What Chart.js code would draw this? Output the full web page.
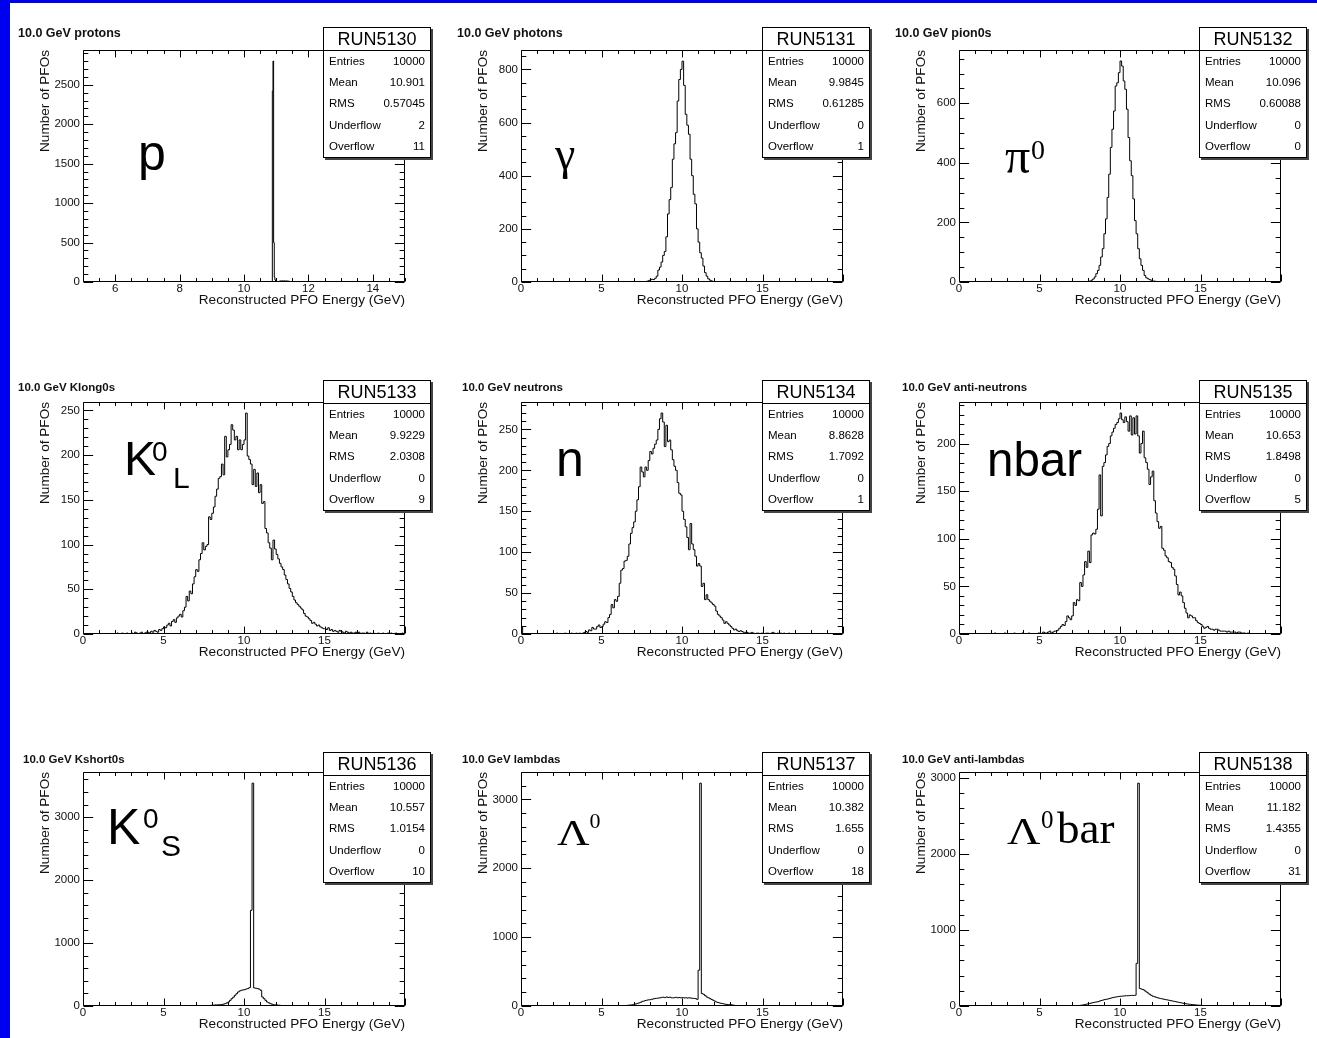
<!DOCTYPE html>
<html>
<head>
<meta charset="utf-8">
<title>10 GeV single particle PFO energies</title>
<script src="https://cdn.jsdelivr.net/npm/chart.js@4.4.1/dist/chart.umd.min.js"></script>
<style>
  html, body { margin: 0; padding: 0; background: #fff; }
  body { width: 1317px; height: 1038px; position: relative; overflow: hidden;
         font-family: 'Liberation Sans', Arial, sans-serif; color: #000; }
  .edge  { position: absolute; background: #0000f0; }
  .panel { position: absolute; }
  .title { position: absolute; font-weight: bold; color: #111; white-space: nowrap; line-height: 14px; }
  .stats { position: absolute; width: 106px; height: 129px; border: 1px solid #000; background: #fff;
           box-shadow: 2px 2px 0 #444; }
  .stats .run { height: 22px; line-height: 22px; font-size: 18px; text-align: center; border-bottom: 1px solid #000; }
  .stats .row { display: flex; justify-content: space-between; padding: 0 5px 0 5px;
                height: 21.2px; line-height: 21.2px; font-size: 11.5px; }
  .big   { position: absolute; line-height: 1; white-space: nowrap; color: #000; transform-origin: 0 0; }
</style>
</head>
<body>
<div class="edge" style="left:0;top:0;width:10px;height:1038px"></div>
<div class="edge" style="left:0;top:0;width:1317px;height:3px"></div>

<script>
/* ─────────────────────────────────────────────────────────────
   3x3 grid of ROOT-style PFO energy histograms (10 GeV beams)
   ───────────────────────────────────────────────────────────── */

/* ── Panel text ── */
const TITLES = ['10.0 GeV protons', '10.0 GeV photons', '10.0 GeV pion0s',
                '10.0 GeV Klong0s', '10.0 GeV neutrons', '10.0 GeV anti-neutrons',
                '10.0 GeV Kshort0s', '10.0 GeV lambdas', '10.0 GeV anti-lambdas'];
const RUNS   = ['RUN5130', 'RUN5131', 'RUN5132', 'RUN5133', 'RUN5134',
                'RUN5135', 'RUN5136', 'RUN5137', 'RUN5138'];

/* ── Stat boxes ── */
const STAT_NAMES = ['Entries', 'Mean', 'RMS', 'Underflow', 'Overflow'];
const ENTRIES    = ['10000', '10000', '10000', '10000', '10000', '10000', '10000', '10000', '10000'];
const MEANS      = ['10.901', '9.9845', '10.096', '9.9229', '8.8628', '10.653', '10.557', '10.382', '11.182'];
const RMSS       = ['0.57045', '0.61285', '0.60088', '2.0308', '1.7092', '1.8498', '1.0154', '1.655', '1.4355'];
const UNDERFLOWS = ['2', '0', '0', '0', '0', '0', '0', '0', '0'];
const OVERFLOWS  = ['11', '1', '0', '9', '1', '5', '10', '18', '31'];

/* ── Histogram contents (bin width, first bin low edge, counts) ── */
const BIN_WIDTH = [0.02, 0.1, 0.1, 0.1, 0.1, 0.1, 0.1, 0.1, 0.1];
const BIN_START = [10.80, 7.8, 8.0, 2.0, 0.0, 2.0, 7.5, 6.0, 7.0];

const PROTON_BINS = [
  0, 1, 2, 6, 2420, 2800, 500, 60, 25, 10,
  8, 6, 5, 4, 3, 12, 14, 12, 13, 15,
  14, 12, 15, 13, 12, 14, 11, 13, 12, 10,
  8, 4, 2, 1];
const PHOTON_BINS = [
  3, 5,
  8, 10, 9, 14, 22, 45, 56, 75, 100, 115,
  170, 256, 310, 356, 462, 520, 562, 681, 762, 800,
  831, 740, 631, 590, 556, 462, 400, 330, 294, 200,
  150, 110, 90, 60, 35, 22, 12, 7, 4, 2,
  1, 1, 0, 1];
const PION_BINS = [
  2, 3, 6, 10, 17, 28, 39, 56, 84, 112,
  162, 212, 284, 362, 452, 513, 574, 658, 669, 703,
  742, 725, 675, 647, 580, 485, 407, 357, 279, 206,
  162, 112, 78, 56, 39, 22, 14, 11, 8, 6,
  3, 3, 2, 1, 1, 1, 0, 1];
const KLONG_BINS = [
  0, 1, 0, 0, 1, 0, 0, 1, 0, 0,
  1, 0, 2, 1, 0, 1, 2, 0, 1, 2,
  2, 1, 3, 2, 4, 3, 2, 5, 4, 6,
  8, 7, 10, 12, 9, 14, 16, 13, 18, 20,
  22, 19, 26, 30, 42, 37, 48, 45, 56, 64,
  72, 70, 83, 90, 102, 94, 98, 100, 131, 128,
  135, 142, 154, 162, 174, 176, 190, 178, 221, 198,
  206, 212, 234, 228, 217, 221, 206, 217, 206, 212,
  217, 247, 199, 195, 190, 167, 184, 165, 180, 158,
  167, 146, 148, 118, 113, 102, 96, 83, 105, 95,
  89, 84, 79, 75, 72, 66, 61, 56, 51, 47,
  42, 38, 35, 33, 31, 29, 27, 23, 20, 19,
  17, 15, 12, 13, 11, 9, 10, 8, 7, 6,
  6, 5, 7, 4, 5, 3, 4, 3, 2, 4,
  3, 2, 1, 3, 2, 1, 2, 1, 1, 2,
  1, 2, 0, 1, 1, 0, 2, 0, 1, 0,
  1, 0, 0, 1, 0, 0, 1, 0, 0, 1,
  0, 1, 0, 0, 1, 0, 0, 0, 1, 0];
const NEUTRON_BINS = [
  9, 0, 0, 0, 0, 0, 0, 0, 0, 0,
  0, 0, 0, 0, 0, 0, 0, 0, 0, 0,
  0, 0, 1, 0, 0, 0, 0, 1, 0, 0,
  0, 1, 0, 0, 1, 0, 1, 0, 1, 2,
  3, 2, 5, 4, 8, 6, 6, 9, 11, 8,
  9, 12, 15, 14, 20, 24, 36, 32, 42, 40,
  46, 62, 78, 80, 89, 90, 95, 110, 123, 130,
  137, 150, 164, 180, 204, 198, 192, 204, 200, 212,
  223, 220, 227, 232, 237, 250, 263, 270, 259, 229,
  255, 235, 237, 225, 213, 205, 200, 185, 172, 170,
  150, 140, 131, 118, 103, 135, 110, 103, 95, 83,
  86, 83, 58, 62, 42, 48, 42, 40, 38, 36,
  34, 28, 24, 22, 20, 17, 13, 15, 13, 11,
  9, 7, 5, 6, 4, 3, 4, 3, 2, 2,
  2, 1, 1, 2, 1, 0, 1, 1, 0, 1,
  1, 0, 1, 1, 0, 1, 2, 1, 0, 1,
  0, 1, 0, 1, 0, 0, 1, 0, 0, 0];
const NBAR_BINS = [
  0, 0, 1, 0, 0, 0, 0, 0, 1, 0,
  0, 0, 0, 0, 1, 0, 0, 0, 0, 1,
  0, 0, 0, 1, 0, 0, 0, 0, 0, 1,
  1, 0, 2, 1, 1, 2, 3, 1, 2, 3,
  3, 4, 6, 8, 10, 9, 13, 19, 17, 15,
  19, 33, 30, 36, 35, 54, 50, 62, 76, 70,
  87, 75, 104, 106, 105, 110, 131, 167, 124, 176,
  180, 188, 197, 200, 208, 212, 216, 220, 222, 226,
  232, 225, 222, 228, 223, 213, 229, 209, 227, 210,
  229, 208, 190, 200, 213, 185, 180, 173, 157, 165,
  171, 140, 127, 118, 111, 113, 90, 88, 82, 80,
  76, 75, 70, 68, 61, 52, 41, 44, 40, 33,
  27, 22, 17, 20, 19, 17, 17, 14, 12, 11,
  10, 8, 6, 7, 8, 6, 5, 5, 4, 5,
  5, 4, 3, 3, 3, 3, 2, 3, 2, 2,
  2, 2, 1, 2, 2, 1, 1, 1, 0, 1];
const KSHORT_BINS = [
  3, 5, 5, 8, 10,
  14, 15, 17, 18, 20, 21, 25, 30, 38, 50,
  64, 90, 117, 140, 170, 195, 223, 240, 250, 255,
  260, 270, 276, 292, 1520, 3540, 287, 282, 276, 268,
  250, 143, 117, 90, 64, 50, 37, 28, 21, 18,
  16, 13, 10, 8, 6, 5, 4, 4, 3, 2,
  3, 1, 2, 1];
const LAMBDA_BINS = [
  1, 2, 3, 4, 6, 8, 10, 13, 15, 18,
  25, 30, 38, 45, 55, 68, 72, 80, 86, 90,
  92, 98, 105, 110, 112, 116, 118, 125, 128, 122,
  131, 124, 128, 120, 118, 121, 126, 119, 124, 118,
  121, 117, 120, 115, 119, 116, 112, 110, 107, 97,
  520, 3236, 180, 170, 150, 131, 120, 107, 95, 83,
  70, 58, 50, 44, 38, 34, 28, 24, 21, 19,
  19, 14, 10];
const ALAMBDA_BINS = [
  1, 2, 2, 3, 5, 9, 12, 15, 20, 25,
  31, 35, 40, 45, 50, 53, 58, 65, 72, 78,
  84, 88, 92, 98, 104, 110, 115, 118, 122, 126,
  128, 130, 132, 134, 135, 136, 138, 140, 139, 141,
  560, 2930, 229, 222, 216, 200, 185, 170, 154, 140,
  128, 122, 115, 108, 102, 97, 93, 88, 84, 80,
  75, 71, 66, 62, 58, 53, 49, 44, 40, 35,
  31, 28, 25, 22, 20, 18, 15, 13, 11, 10,
  9, 6, 4, 2, 1];
const BINS = [PROTON_BINS, PHOTON_BINS, PION_BINS, KLONG_BINS, NEUTRON_BINS,
              NBAR_BINS, KSHORT_BINS, LAMBDA_BINS, ALAMBDA_BINS];

/* ── Axes ── */
const X_RANGE        = [[5, 15], [0, 20], [0, 20], [0, 20], [0, 20], [0, 20], [0, 20], [0, 20], [0, 20]];
const X_TICKS_PROTON = [6, 8, 10, 12, 14];
const X_TICKS        = [0, 5, 10, 15];
const Y_MAX          = [2940, 873, 779, 259.4, 283.5, 243.6, 3717, 3398, 3077];
const Y_TICKS = [
  [0, 500, 1000, 1500, 2000, 2500],
  [0, 200, 400, 600, 800],
  [0, 200, 400, 600],
  [0, 50, 100, 150, 200, 250],
  [0, 50, 100, 150, 200, 250],
  [0, 50, 100, 150, 200],
  [0, 1000, 2000, 3000],
  [0, 1000, 2000, 3000],
  [0, 1000, 2000, 3000]];
// [major step, minor step] for the ROOT tick marks
const X_DIV = [[2, 0.5], [5, 1], [5, 1], [5, 1], [5, 1], [5, 1], [5, 1], [5, 1], [5, 1]];
const Y_DIV = [[500, 100], [200, 50], [200, 50], [50, 10], [50, 10], [50, 10],
               [1000, 200], [1000, 200], [1000, 200]];

/* ── Layout (px) ── */
const COL_LEFT = [83, 521, 959];
const ROW_TOP  = [50, 402, 772];
const ROW_H    = [232, 232, 234];
const PLOT_W   = 322;
const Y_AXIS_W = 46, PAD_TOP = 12, PAD_RIGHT = 12, X_AXIS_H = 26;
const STAT_LEFT = [323, 762, 1199];
const STAT_TOP  = [27, 380, 752];
const TITLE_POS = [[18, 33], [457, 33], [895, 33], [18, 387], [462, 387], [902, 387],
                   [23, 759], [462, 759], [902, 759]];
const TITLE_SIZE = [12.5, 11.5, 11.5];

/* big particle labels: [text, left, baseline, size, serif, scaleX] */
const LABELS = [
  [['p', 138, 170, 50, false]],
  [['γ', 555, 170, 46, true]],
  [['π', 1005, 173, 50, true], ['0', 1031, 159, 28, true]],
  [['K', 124, 476, 48, false], ['0', 152, 461.7, 28, false], ['L', 173, 488.3, 30, false]],
  [['n', 556, 476, 50, false]],
  [['nbar', 987, 476.7, 47.5, false]],
  [['K', 107, 844, 50, false], ['0', 143, 828.3, 28, false], ['S', 161, 856.7, 30, false]],
  [['Λ', 557, 845, 36, true, 1.25], ['0', 589.5, 828, 22, true]],
  [['Λ', 1007, 843.5, 37, true, 1.25], ['0', 1041, 828.3, 25, true], ['bar', 1057, 843.5, 45, true]]];

const SANS  = "'Liberation Sans', Arial, sans-serif";
const SERIF = "'Liberation Serif', 'Times New Roman', serif";
const INK   = '#111';

/* ── Helpers ── */
function histPoints(start, width, values, xmin, xmax) {
  const pts = [{ x: xmin, y: 0 }, { x: start, y: 0 }];
  values.forEach((v, i) => pts.push({ x: start + i * width, y: v }));
  pts.push({ x: start + values.length * width, y: 0 }, { x: xmax, y: 0 });
  return pts;
}

function tickMarks(min, max, major, minor) {
  const out = [];
  for (let i = Math.ceil(min / minor - 1e-6); i * minor <= max + 1e-9; i++) {
    const v = i * minor;
    const r = v / major;
    out.push([v, Math.abs(r - Math.round(r)) < 1e-6]);
  }
  return out;
}

/* ROOT frame: box + inward ticks on all four sides */
const rootFrame = {
  id: 'rootFrame',
  afterDatasetsDraw(chart, args, o) {
    const { ctx, chartArea: a, scales: { x, y } } = chart;
    const L = Math.round(a.left) + 0.5, R = Math.round(a.right) - 0.5;
    const T = Math.round(a.top) + 0.5,  B = Math.round(a.bottom) - 0.5;
    const xLen = (B - T) * 0.03, yLen = (R - L) * 0.03;
    ctx.save();
    ctx.strokeStyle = '#000';
    ctx.lineWidth = 1;
    ctx.beginPath();
    ctx.rect(L, T, R - L, B - T);
    tickMarks(x.min, x.max, o.xDiv[0], o.xDiv[1]).forEach(([v, major]) => {
      const px = Math.round(x.getPixelForValue(v)) + 0.5;
      const len = major ? xLen : xLen / 2;
      ctx.moveTo(px, B); ctx.lineTo(px, B - len);
      ctx.moveTo(px, T); ctx.lineTo(px, T + len);
    });
    tickMarks(y.min, y.max, o.yDiv[0], o.yDiv[1]).forEach(([v, major]) => {
      const py = Math.round(y.getPixelForValue(v)) + 0.5;
      const len = major ? yLen : yLen / 2;
      ctx.moveTo(L, py); ctx.lineTo(L + len, py);
      ctx.moveTo(R, py); ctx.lineTo(R - len, py);
    });
    ctx.stroke();
    ctx.restore();
  },
};

function addDiv(cls, css, html) {
  const d = document.createElement('div');
  d.className = cls;
  Object.assign(d.style, css);
  if (html !== undefined) d.innerHTML = html;
  document.body.appendChild(d);
  return d;
}

/* ── Build the nine panels ── */
for (let i = 0; i < 9; i++) {
  const row = Math.floor(i / 3), col = i % 3;
  const plotH = ROW_H[row];
  const cw = Y_AXIS_W + PLOT_W + PAD_RIGHT;
  const ch = PAD_TOP + plotH + X_AXIS_H;

  const wrap = addDiv('panel', {
    left: (COL_LEFT[col] - Y_AXIS_W) + 'px', top: (ROW_TOP[row] - PAD_TOP) + 'px',
    width: cw + 'px', height: ch + 'px',
  });
  const canvas = document.createElement('canvas');
  canvas.width = cw; canvas.height = ch;
  canvas.style.width = cw + 'px'; canvas.style.height = ch + 'px';
  wrap.appendChild(canvas);

  const [xmin, xmax] = X_RANGE[i];
  const xTicks = i === 0 ? X_TICKS_PROTON : X_TICKS;
  const tickFont = { family: SANS, size: 11.5 };
  const titleFont = { family: SANS, size: 13.6 };

  new Chart(canvas, {
    type: 'line',
    data: {
      datasets: [{
        data: histPoints(BIN_START[i], BIN_WIDTH[i], BINS[i], xmin, xmax),
        stepped: true,
        borderColor: '#000',
        borderWidth: 1,
        pointRadius: 0,
        fill: false,
      }],
    },
    options: {
      responsive: false,
      devicePixelRatio: 1,
      animation: false,
      layout: { padding: { left: 0, top: PAD_TOP, right: PAD_RIGHT, bottom: 0 } },
      plugins: {
        legend: { display: false },
        tooltip: { enabled: false },
        rootFrame: { xDiv: X_DIV[i], yDiv: Y_DIV[i] },
      },
      scales: {
        x: {
          type: 'linear', min: xmin, max: xmax,
          grid: { display: false, drawTicks: false }, border: { display: false },
          afterBuildTicks: s => { s.ticks = xTicks.map(v => ({ value: v })); },
          afterFit: s => { s.height = X_AXIS_H; },
          ticks: { padding: 0, autoSkip: false, maxRotation: 0, minRotation: 0,
                   color: INK, font: tickFont, callback: v => String(v) },
          title: { display: true, text: 'Reconstructed PFO Energy (GeV)', align: 'end',
                   padding: 0, color: INK, font: titleFont },
        },
        y: {
          type: 'linear', min: 0, max: Y_MAX[i],
          grid: { display: false, drawTicks: false }, border: { display: false },
          afterBuildTicks: s => { s.ticks = Y_TICKS[i].map(v => ({ value: v })); },
          afterFit: s => { s.width = Y_AXIS_W; },
          ticks: { padding: 3, autoSkip: false, color: INK, font: tickFont, callback: v => String(v) },
          title: { display: true, text: 'Number of PFOs', align: 'end',
                   padding: 0, color: INK, font: titleFont },
        },
      },
    },
    plugins: [rootFrame],
  });

  /* title */
  const [tx, ty] = TITLE_POS[i];
  addDiv('title', { left: tx + 'px', top: (ty - 7) + 'px', fontSize: TITLE_SIZE[row] + 'px' }, TITLES[i]);

  /* stat box */
  const vals = [ENTRIES[i], MEANS[i], RMSS[i], UNDERFLOWS[i], OVERFLOWS[i]];
  const rows = STAT_NAMES.map((n, k) =>
    `<div class="row"><span>${n}</span><span>${vals[k]}</span></div>`).join('');
  addDiv('stats', { left: STAT_LEFT[col] + 'px', top: STAT_TOP[row] + 'px' },
         `<div class="run">${RUNS[i]}</div>${rows}`);

  /* big particle label */
  LABELS[i].forEach(([text, left, base, size, serif, sx]) => {
    const off = serif ? 0.8375 : 0.8465;
    addDiv('big', {
      left: left + 'px', top: (base - off * size) + 'px', fontSize: size + 'px',
      fontFamily: serif ? SERIF : SANS,
      transform: sx ? `scaleX(${sx})` : 'none',
    }, text);
  });
}
</script>
</body>
</html>
